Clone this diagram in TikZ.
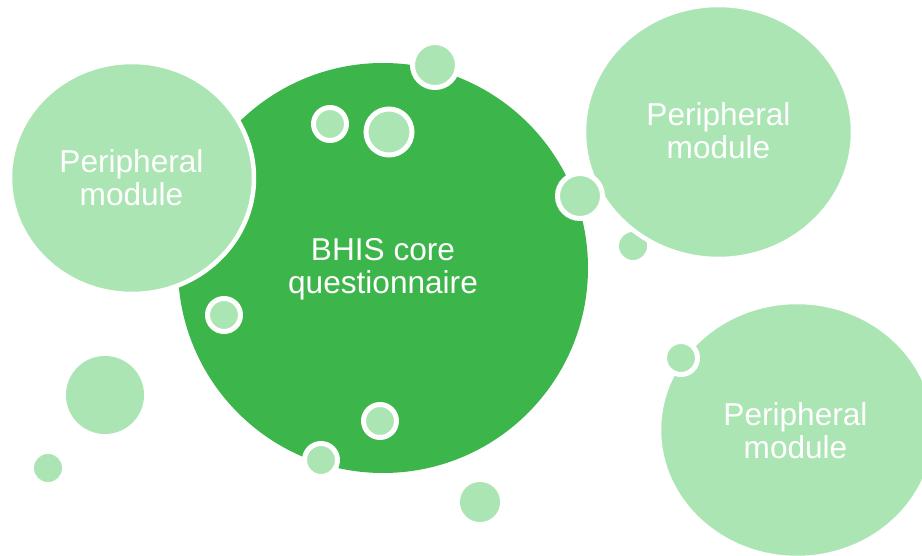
\documentclass[tikz,border=0pt]{standalone}
\usepackage{fontspec}
\setmainfont{Liberation Sans}
\definecolor{coregreen}{RGB}{60,181,74}
\definecolor{lightgreen}{RGB}{172,229,180}
\begin{document}
\begin{tikzpicture}[x=1pt,y=-1pt,
  bubtext/.style={text=white,align=center,font=\fontsize{31.6}{33}\selectfont,inner sep=0pt},
  plain/.style={fill=lightgreen},
  ringed/.style={fill=lightgreen,draw=white,line width=5pt},
  periph/.style={fill=lightgreen,draw=white,line width=4.5pt}]
\useasboundingbox[fill=white] (0,0) rectangle (922,556);
% core
\fill[coregreen] (383,268) circle (205);
% loose bubbles
\fill[plain] (105,395) circle (39);
\fill[plain] (48,468) circle (14);
\fill[plain] (480,502) circle (20);
\fill[plain] (633,246) circle (14);
% peripheral modules
\draw[periph] (132,178) ellipse (122 and 116);
\draw[periph] (718.5,132) ellipse (134.5 and 127);
\draw[periph] (797,430) ellipse (138 and 128);
% ringed bubbles
\draw[ringed] (435,65) circle (22.5);
\draw[ringed] (330,124) circle (16.5);
\draw[ringed] (389,132) circle (23);
\draw[ringed] (580,196) circle (22.5);
\draw[ringed] (224,315) circle (16.5);
\draw[ringed] (380,421) circle (16.5);
\draw[ringed] (321,460) circle (16.5);
\draw[ringed] (681,358) circle (16.5);
% texts
\node[bubtext] (core) at (383,269) {BHIS core\\questionnaire};
\node[bubtext] (p1) at (131.5,178) {Peripheral\\module};
\node[bubtext] (p2) at (718.5,131) {Peripheral\\module};
\node[bubtext] (p3) at (795.5,431) {Peripheral\\module};
\end{tikzpicture}
\end{document}
